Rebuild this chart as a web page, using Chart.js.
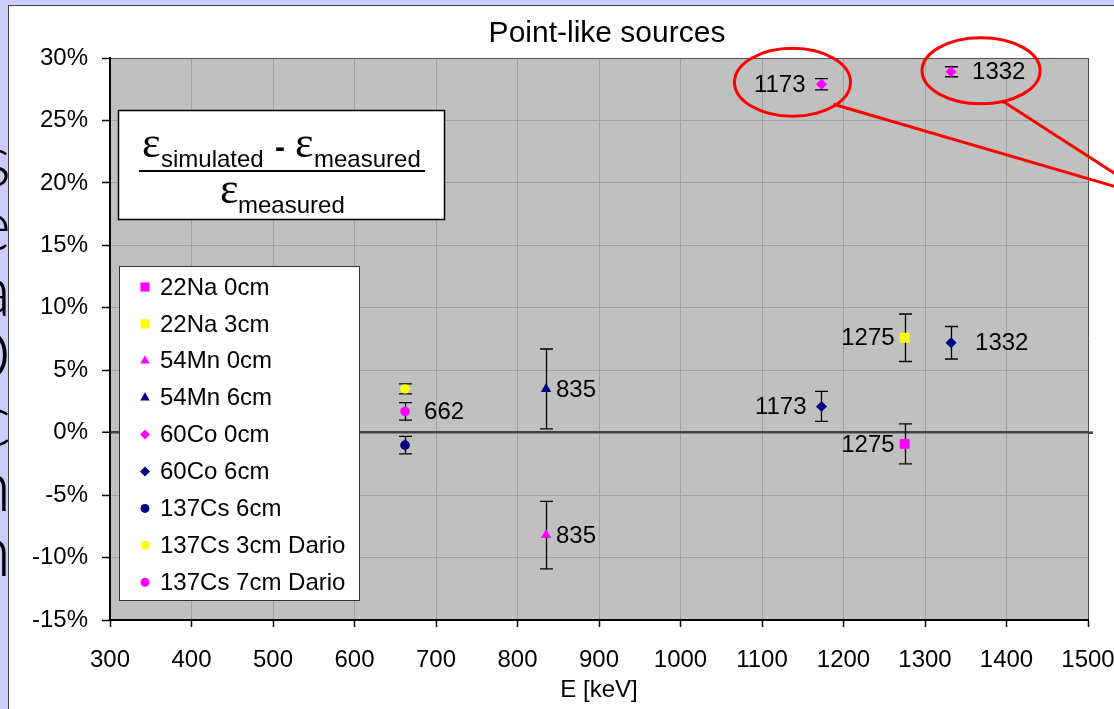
<!DOCTYPE html>
<html>
<head>
<meta charset="utf-8">
<title>Point-like sources</title>
<script src="https://cdn.jsdelivr.net/npm/chart.js@4.4.1/dist/chart.umd.min.js"></script>
<style>
  html, body { margin: 0; padding: 0; background: #CCCCFF; overflow: hidden; }
  #wrap { width: 1114px; height: 709px; position: relative; }
</style>
</head>
<body>
<div id="wrap"><canvas id="effChart" width="1114" height="709"></canvas></div>
<script>
// ---------------------------------------------------------------------------
// Data (relative efficiency deviation in %, errors in %)
// ---------------------------------------------------------------------------
const chartTitle = 'Point-like sources';
const xAxisTitle = 'E [keV]';

const seriesNames = ['22Na 0cm', '22Na 3cm', '54Mn 0cm', '54Mn 6cm', '60Co 0cm',
                     '60Co 6cm', '137Cs 6cm', '137Cs 3cm Dario', '137Cs 7cm Dario'];

const energyNa = [1275];
const energyMn = [835];
const energyCo = [1173, 1332];
const energyCs = [662];

const na0cm = [-0.9];         const na0cmErr = [1.6];
const na3cm = [7.6];          const na3cmErr = [1.9];
const mn0cm = [-8.2];         const mn0cmErr = [2.7];
const mn6cm = [3.5];          const mn6cmErr = [3.2];
const co0cm = [27.9, 28.9];   const co0cmErr = [0.45, 0.4];
const co6cm = [2.1, 7.2];     const co6cmErr = [1.2, 1.3];
const cs6cm = [-1.0];         const cs6cmErr = [0.7];
const cs3cmDario = [3.5];     const cs3cmDarioErr = [0.4];
const cs7cmDario = [1.7];     const cs7cmDarioErr = [0.7];

const xTickValues = [300, 400, 500, 600, 700, 800, 900, 1000, 1100, 1200, 1300, 1400, 1500];
const yTickValues = [-15, -10, -5, 0, 5, 10, 15, 20, 25, 30];

// ---------------------------------------------------------------------------
// Styling
// ---------------------------------------------------------------------------
const FONT = "'Liberation Sans', Arial, sans-serif";
const MAGENTA = '#FF00FF';
const YELLOW = '#FFFF00';
const NAVY = '#000080';

function points(xs, ys) {
    return xs.map((x, i) => ({ x: x, y: ys[i] }));
}

function makeSeries(idx, xs, ys, errs, color, style, radius, labelSides, labelGaps) {
    return {
        label: seriesNames[idx],
        data: points(xs, ys),
        errors: errs,
        labelSides: labelSides,
        labelGaps: labelGaps,
        backgroundColor: color,
        borderColor: color,
        borderWidth: 0,
        pointStyle: style,
        pointRadius: radius,
        showLine: false
    };
}

const datasets = [
    makeSeries(0, energyNa, na0cm, na0cmErr, MAGENTA, 'rect', 7, ['left'], [10]),
    makeSeries(1, energyNa, na3cm, na3cmErr, YELLOW, 'rect', 7, ['left'], [10]),
    makeSeries(2, energyMn, mn0cm, mn0cmErr, MAGENTA, 'triangle', 6, ['right'], [10]),
    makeSeries(3, energyMn, mn6cm, mn6cmErr, NAVY, 'triangle', 6, ['right'], [10]),
    makeSeries(4, energyCo, co0cm, co0cmErr, MAGENTA, 'rectRot', 5.5, ['left', 'right'], [16, 21]),
    makeSeries(5, energyCo, co6cm, co6cmErr, NAVY, 'rectRot', 5.5, ['left', 'right'], [15, 24]),
    makeSeries(6, energyCs, cs6cm, cs6cmErr, NAVY, 'circle', 4.8, [null], [0]),
    makeSeries(7, energyCs, cs3cmDario, cs3cmDarioErr, YELLOW, 'circle', 4.8, [null], [0]),
    makeSeries(8, energyCs, cs7cmDario, cs7cmDarioErr, MAGENTA, 'circle', 4.8, ['right'], [19])
];

// ---------------------------------------------------------------------------
// Plugins
// ---------------------------------------------------------------------------
function drawMarker(ctx, style, radius, x, y, color) {
    ctx.fillStyle = color;
    if (Chart.helpers && Chart.helpers.drawPoint) {
        Chart.helpers.drawPoint(ctx, { pointStyle: style, radius: radius, rotation: 0, borderWidth: 0 }, x, y);
        return;
    }
    ctx.beginPath();
    ctx.arc(x, y, radius, 0, Math.PI * 2);
    ctx.fill();
}

// slide behind the chart, white chart frame and grey plot area
const backgroundPlugin = {
    id: 'slideBackground',
    beforeDraw(chart) {
        const ctx = chart.ctx;
        const area = chart.chartArea;
        ctx.save();
        ctx.fillStyle = '#CCCCFF';
        ctx.fillRect(0, 0, chart.width, chart.height);

        // pieces of the slide text hidden behind the chart
        ctx.save();
        ctx.beginPath();
        ctx.rect(0, 0, 8.5, chart.height);
        ctx.clip();
        ctx.fillStyle = '#000';
        ctx.font = '300 72px Lato, ' + FONT;
        ctx.textAlign = 'right';
        ctx.textBaseline = 'alphabetic';
        const slideLetters = ['s', 'e', 'a', 'O', 'c', 'n', 'n'];
        slideLetters.forEach((ch, i) => ctx.fillText(ch, 11, 186 + i * 65));
        ctx.restore();

        ctx.fillStyle = '#FFFFFF';
        ctx.fillRect(9, 5, chart.width, chart.height);
        ctx.strokeStyle = '#404040';
        ctx.lineWidth = 1;
        ctx.strokeRect(8.5, 5.5, chart.width + 10, chart.height + 10);

        ctx.fillStyle = '#C0C0C0';
        ctx.fillRect(area.left, area.top, area.right - area.left, area.bottom - area.top);

        ctx.fillStyle = '#000';
        ctx.font = '30px ' + FONT;
        ctx.textAlign = 'center';
        ctx.textBaseline = 'middle';
        ctx.fillText(chartTitle, 607, 34);
        ctx.restore();
    }
};

// vertical error bars with caps
const errorBarPlugin = {
    id: 'errorBars',
    beforeDatasetsDraw(chart) {
        const ctx = chart.ctx;
        const yScale = chart.scales.y;
        ctx.save();
        ctx.strokeStyle = '#000';
        ctx.lineWidth = 1.3;
        chart.data.datasets.forEach((ds, i) => {
            const meta = chart.getDatasetMeta(i);
            meta.data.forEach((pt, j) => {
                const v = ds.data[j].y;
                const e = ds.errors[j];
                const yTop = yScale.getPixelForValue(v + e);
                const yBot = yScale.getPixelForValue(v - e);
                const x = Math.round(pt.x) + 0.5;
                ctx.beginPath();
                ctx.moveTo(x, yTop);
                ctx.lineTo(x, yBot);
                ctx.moveTo(x - 6.5, yTop);
                ctx.lineTo(x + 6.5, yTop);
                ctx.moveTo(x - 6.5, yBot);
                ctx.lineTo(x + 6.5, yBot);
                ctx.stroke();
            });
        });
        ctx.restore();
    }
};

// energy labels next to points, formula box, legend and red marks
const overlayPlugin = {
    id: 'overlay',
    afterDatasetsDraw(chart) {
        const ctx = chart.ctx;
        const area = chart.chartArea;
        ctx.save();

        // zero line continues a little past the plot border
        const y0 = chart.scales.y.getPixelForValue(0);
        ctx.strokeStyle = '#404040';
        ctx.lineWidth = 2.5;
        ctx.beginPath();
        ctx.moveTo(area.right, y0);
        ctx.lineTo(area.right + 5, y0);
        ctx.stroke();

        // point labels
        ctx.fillStyle = '#000';
        ctx.font = '24px ' + FONT;
        ctx.textBaseline = 'middle';
        chart.data.datasets.forEach((ds, i) => {
            const meta = chart.getDatasetMeta(i);
            meta.data.forEach((pt, j) => {
                const side = ds.labelSides[j];
                if (!side) return;
                const text = String(ds.data[j].x);
                const gap = ds.labelGaps[j];
                ctx.textAlign = side === 'left' ? 'right' : 'left';
                const x = side === 'left' ? pt.x - gap : pt.x + gap;
                ctx.fillText(text, x, pt.y + 1);
            });
        });

        // formula box
        ctx.fillStyle = '#FFFFFF';
        ctx.fillRect(118, 110, 327, 110);
        ctx.strokeStyle = '#000';
        ctx.lineWidth = 1.5;
        ctx.strokeRect(118.5, 110.5, 326, 109);
        ctx.fillStyle = '#000';
        ctx.textAlign = 'left';
        ctx.textBaseline = 'alphabetic';
        const epsFont = '44px "Liberation Serif", "DejaVu Serif", serif';
        const subFont = '24px ' + FONT;
        ctx.font = epsFont; ctx.fillText('\u03b5', 142, 157);
        ctx.font = subFont; ctx.fillText('simulated', 161, 167);
        ctx.font = 'bold 30px ' + FONT; ctx.fillText('-', 275, 157);
        ctx.font = epsFont; ctx.fillText('\u03b5', 295, 157);
        ctx.font = subFont; ctx.fillText('measured', 314, 167);
        ctx.lineWidth = 2;
        ctx.beginPath();
        ctx.moveTo(139, 171);
        ctx.lineTo(425, 171);
        ctx.stroke();
        ctx.font = epsFont; ctx.fillText('\u03b5', 220, 203);
        ctx.font = subFont; ctx.fillText('measured', 238, 213);

        // legend
        ctx.fillStyle = '#FFFFFF';
        ctx.fillRect(119, 266, 241, 335);
        ctx.strokeStyle = '#333';
        ctx.lineWidth = 1;
        ctx.strokeRect(119.5, 266.5, 240, 334);
        ctx.font = '24px ' + FONT;
        ctx.textBaseline = 'middle';
        ctx.textAlign = 'left';
        const legendRadius = { rect: 6.5, triangle: 5.5, rectRot: 5, circle: 4.5 };
        chart.data.datasets.forEach((ds, i) => {
            const y = 287 + i * 36.9;
            drawMarker(ctx, ds.pointStyle, legendRadius[ds.pointStyle], 145, y, ds.backgroundColor);
            ctx.fillStyle = '#000';
            ctx.fillText(ds.label, 160, y + 1);
        });

        // red ellipses around the 60Co 0cm points and the arrows leaving the chart
        const co0 = chart.getDatasetMeta(4).data;
        ctx.strokeStyle = '#FF0000';
        ctx.lineWidth = 3;
        const e1 = { x: co0[0].x - 29, y: co0[0].y - 2 };
        const e2 = { x: co0[1].x + 30, y: co0[1].y - 1 };
        ctx.beginPath();
        ctx.ellipse(e1.x, e1.y, 58, 34, 0, 0, Math.PI * 2);
        ctx.stroke();
        ctx.beginPath();
        ctx.ellipse(e2.x, e2.y, 59, 33, 0, 0, Math.PI * 2);
        ctx.stroke();
        ctx.beginPath();
        ctx.moveTo(e1.x + 41, e1.y + 22);
        ctx.lineTo(1151, 197);
        ctx.moveTo(e2.x + 21, e2.y + 30);
        ctx.lineTo(1151, 197);
        ctx.stroke();

        ctx.restore();
    }
};

// ---------------------------------------------------------------------------
// Chart
// ---------------------------------------------------------------------------
const chart = new Chart(document.getElementById('effChart'), {
    type: 'scatter',
    data: { datasets: datasets },
    plugins: [backgroundPlugin, errorBarPlugin, overlayPlugin],
    options: {
        responsive: false,
        animation: false,
        events: [],
        layout: { padding: { left: 0, right: 26, top: 58, bottom: 0 } },
        plugins: {
            legend: { display: false },
            tooltip: { enabled: false },
            title: { display: false }
        },
        scales: {
            x: {
                type: 'linear',
                min: 300,
                max: 1500,
                afterBuildTicks: scale => { scale.ticks = xTickValues.map(v => ({ value: v })); },
                afterFit: scale => {
                    scale.height = 89;
                    scale.paddingLeft = 0;
                    scale.paddingRight = 0;
                },
                ticks: {
                    autoSkip: false,
                    maxRotation: 0,
                    padding: 19,
                    color: '#000',
                    font: { family: FONT, size: 24 },
                    callback: v => String(v)
                },
                grid: {
                    color: c => (c.tick && c.tick.value === 1500) ? '#505050' : '#A0A0A0',
                    lineWidth: 1,
                    tickColor: '#000',
                    tickLength: 7,
                    tickWidth: 1.5
                },
                border: { color: '#000', width: 2 },
                title: {
                    display: true,
                    text: xAxisTitle,
                    color: '#000',
                    font: { family: FONT, size: 24 },
                    padding: { top: 0, bottom: 4 }
                }
            },
            y: {
                type: 'linear',
                min: -15,
                max: 30,
                afterBuildTicks: scale => { scale.ticks = yTickValues.map(v => ({ value: v })); },
                afterFit: scale => {
                    scale.width = 110;
                    scale.paddingTop = 0;
                    scale.paddingBottom = 0;
                },
                ticks: {
                    padding: 14,
                    color: '#000',
                    font: { family: FONT, size: 24 },
                    callback: v => v + '%'
                },
                grid: {
                    color: c => {
                        if (!c.tick) return '#A0A0A0';
                        if (c.tick.value === 0) return '#404040';
                        if (c.tick.value === 30) return '#505050';
                        return '#A0A0A0';
                    },
                    lineWidth: c => (c.tick && c.tick.value === 0) ? 2.5 : 1,
                    tickColor: '#000',
                    tickLength: 8,
                    tickWidth: 1.5
                },
                border: { color: '#000', width: 2 }
            }
        }
    }
});
</script>
</body>
</html>
